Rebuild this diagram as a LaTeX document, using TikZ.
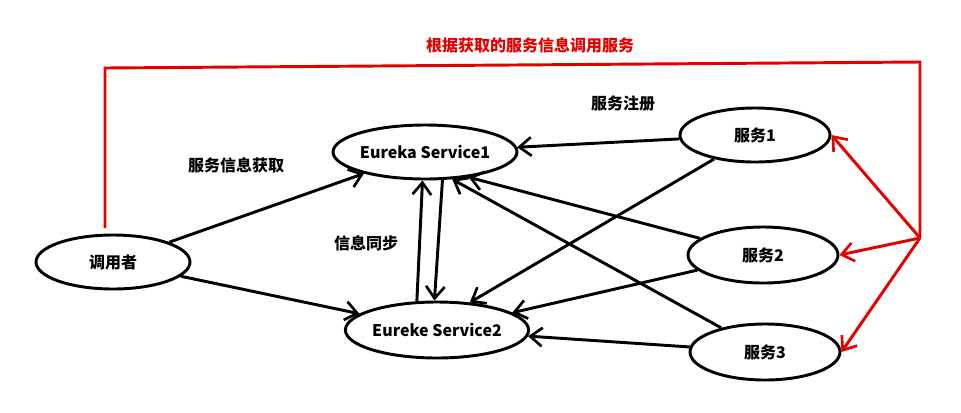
\documentclass[tikz,border=0pt]{standalone}
\usepackage{fontspec}
\setmainfont{Noto Sans CJK SC}
\usetikzlibrary{shapes.geometric,arrows.meta}
\begin{document}
\begin{tikzpicture}[x=0.75pt,y=-0.75pt,
  ell/.style={ellipse,draw,line width=2.2pt,font=\bfseries\large,inner sep=0pt},
  con/.style={line width=2.2pt,-{Straight Barb[length=9pt,width=14pt,line width=2pt]}},
  rcon/.style={line width=2.2pt,red!90!black,-{Straight Barb[length=9pt,width=14pt,line width=2pt]}},
  lab/.style={font=\bfseries\large}]
\useasboundingbox (0,0) rectangle (961,412);
\node[ell,minimum width=154pt*0.75,minimum height=54pt*0.75] (c) at (113,262) {调用者};
\node[ell,minimum width=174pt*0.75,minimum height=54pt*0.75] (e1) at (425,152) {Eureka Service1};
\node[ell,minimum width=170pt*0.75,minimum height=56pt*0.75] (e2) at (437,330) {Eureke Service2};
\node[ell,minimum width=150pt*0.75,minimum height=54pt*0.75] (s1) at (755,135) {服务1};
\node[ell,minimum width=150pt*0.75,minimum height=56pt*0.75] (s2) at (763,255) {服务2};
\node[ell,minimum width=150pt*0.75,minimum height=56pt*0.75] (s3) at (765,352) {服务3};
\draw[con] (c) -- (e1);
\draw[con] (c) -- (e2);
\draw[con] (e1.-58) -- (e2.95);
\draw[con] (e2.125) -- (e1.-95);
\draw[con] (s1) -- (e1);
\draw[con] (s1) -- (e2.40);
\draw[con] (s2) -- (e1.-30);
\draw[con] (s2) -- (e2);
\draw[con] (s3) -- (e1.-45);
\draw[con] (s3) -- (e2);
\coordinate (r) at (920,238);
\coordinate (r0) at (105,228);
\draw[line width=2.2pt,red!90!black] (r0) -- (105,68) -- (920,62) -- (r);
\draw[rcon] (r) -- (s1.east);
\draw[rcon] (r) -- (s2.east);
\draw[rcon] (r) -- (s3.east);
\node[lab,text=red!90!black] (t0) at (530,45) {根据获取的服务信息调用服务};
\node[lab] (t1) at (236,165) {服务信息获取};
\node[lab] (t2) at (366,243) {信息同步};
\node[lab] (t3) at (623,103) {服务注册};
\end{tikzpicture}
\end{document}
